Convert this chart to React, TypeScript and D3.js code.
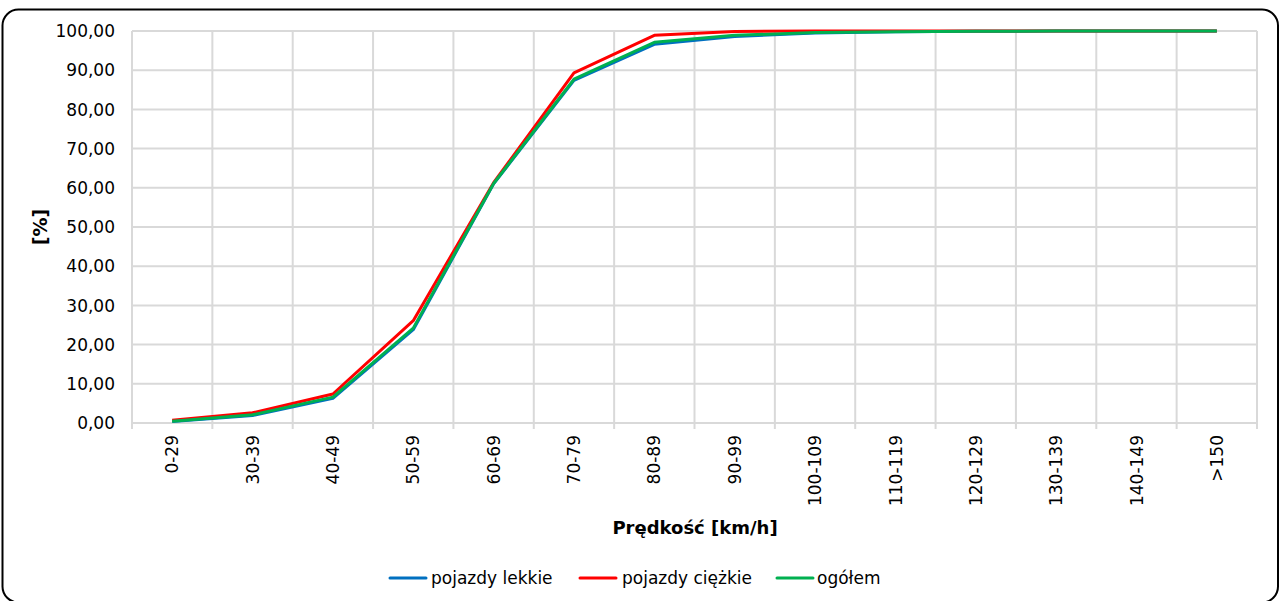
import React from "react";
import * as d3 from "d3";

const categories = ["0-29", "30-39", "40-49", "50-59", "60-69", "70-79", "80-89", "90-99", "100-109", "110-119", "120-129", "130-139", "140-149", ">150"];
const lekkie = [0.4, 1.9, 6.3, 23.8, 61.0, 87.4, 96.6, 98.6, 99.5, 99.8, 99.95, 99.98, 100, 100];
const ciezkie = [0.7, 2.6, 7.4, 26.1, 61.3, 89.3, 98.9, 99.9, 100, 100, 100, 100, 100, 100];
const ogolem = [0.45, 2.1, 6.6, 24.2, 61.1, 87.7, 97.1, 98.9, 99.6, 99.8, 99.95, 99.98, 100, 100];
const yTicks = [0, 10, 20, 30, 40, 50, 60, 70, 80, 90, 100];

const seriesList = [
  { name: "pojazdy lekkie", values: lekkie, color: "#0070C0" },
  { name: "pojazdy ciężkie", values: ciezkie, color: "#FF0000" },
  { name: "ogółem", values: ogolem, color: "#00B050" },
];

export default function App() {
  const W = 1283, H = 601;
  const left = 132, right = 1257, top = 31, bottom = 423;
  const x = d3.scaleBand<string>().domain(categories).range([left, right]).paddingInner(0).paddingOuter(0);
  const y = d3.scaleLinear().domain([0, 100]).range([bottom, top]);
  const cx = (c: string) => (x(c) as number) + x.bandwidth() / 2;
  const boundaries = categories.map((c) => x(c) as number).concat([right]);
  const font = "'DejaVu Sans', Verdana, sans-serif";
  const legendItems = [
    { x0: 390, tx: 431 },
    { x0: 580, tx: 622 },
    { x0: 777, tx: 817 },
  ];

  return (
    <div style={{ position: "absolute", left: 0, top: 0 }}>
      <svg width={W} height={H} style={{ display: "block" }}>
        <rect x={0} y={0} width={W} height={H} fill="#fff" />
        <rect x={2.5} y={9.5} width={1275.5} height={593} rx={16} ry={16} fill="#fff" stroke="#000" strokeWidth={2} />
        {/* horizontal grid */}
        {yTicks.map((t) => (
          <line key={"h" + t} x1={left} x2={right} y1={y(t)} y2={y(t)} stroke="#D9D9D9" strokeWidth={2} />
        ))}
        {/* vertical grid */}
        {boundaries.map((b, i) => (
          <line key={"v" + i} x1={b} x2={b} y1={top} y2={bottom + 6} stroke="#D9D9D9" strokeWidth={2} />
        ))}
        {/* y tick labels */}
        {yTicks.map((t) => (
          <text key={"yt" + t} x={115} y={y(t)} dy="0.36em" textAnchor="end" fontFamily={font} fontSize={17} fill="#000">
            {d3.format(".2f")(t).replace(".", ",")}
          </text>
        ))}
        {/* x tick labels */}
        {categories.map((c) => (
          <text key={"xt" + c} transform={`translate(${cx(c)},${435}) rotate(-90)`} dy="0.36em" textAnchor="end" fontFamily={font} fontSize={17} fill="#000">
            {c}
          </text>
        ))}
        {/* axis titles */}
        <text x={695} y={534} textAnchor="middle" fontFamily={font} fontSize={18} fontWeight="bold" fill="#000">
          Prędkość [km/h]
        </text>
        <text transform={`translate(40,${227}) rotate(-90)`} dy="0.36em" textAnchor="middle" fontFamily={font} fontSize={19} fontWeight="bold" fill="#000">
          [%]
        </text>
        {/* lines */}
        {seriesList.map((s) => {
          const gen = d3.line<number>().x((_, i) => cx(categories[i])).y((v) => y(v));
          return <path key={s.name} d={gen(s.values) || ""} fill="none" stroke={s.color} strokeWidth={3} strokeLinejoin="round" />;
        })}
        {/* legend */}
        {seriesList.map((s, i) => (
          <g key={"lg" + s.name}>
            <line x1={legendItems[i].x0} x2={legendItems[i].x0 + 36} y1={578} y2={578} stroke={s.color} strokeWidth={3} strokeLinecap="round" />
            <text x={legendItems[i].tx} y={578} dy="0.36em" fontFamily={font} fontSize={17} fill="#000">
              {s.name}
            </text>
          </g>
        ))}
      </svg>
    </div>
  );
}
